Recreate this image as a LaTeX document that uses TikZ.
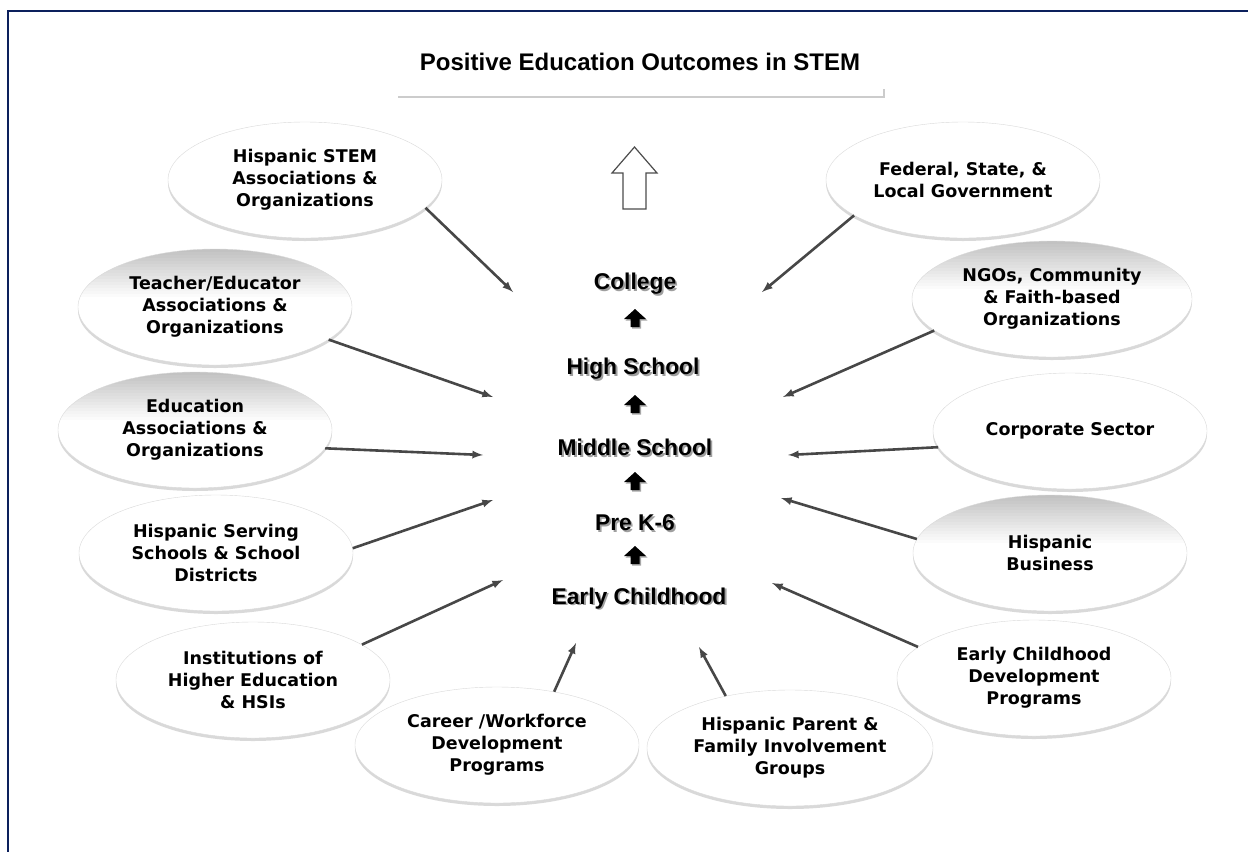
\documentclass[tikz,border=0pt]{standalone}
\usepackage{fontspec}
\setmainfont{Liberation Sans}
\newfontfamily\ovalfont{DejaVu Sans}
\usepackage{xcolor}
\usepackage{tikz}
\usetikzlibrary{shapes}
\usetikzlibrary{shadows}
\definecolor{navy}{RGB}{12,32,92}
\newcommand{\lvltext}[1]{\makebox[0pt][l]{\hspace{1.8pt}\raisebox{-1.8pt}{\color{gray!75}#1}}#1}

\begin{document}
\begin{tikzpicture}[x = 1pt, y = -1pt,
  oval/.style = {ellipse, draw = gray!30, fill = white, minimum width = 274pt,
                 minimum height = 116pt, align = center, inner sep = 0pt,
                 font = \ovalfont\bfseries\fontsize{17.5}{22}\selectfont,
                 drop shadow = {shadow xshift = 0pt, shadow yshift = -3pt,
                                fill = gray!50, opacity = .6}},
  topshade/.style = {path picture = {
                 \foreach \k in {0,...,15} {
                   \pgfmathtruncatemacro\g{48-3*\k}
                   \fill[gray!\g] ([yshift = -3*\k pt]path picture bounding box.north west)
                     rectangle ([yshift = -3*\k pt - 3.2pt]path picture bounding box.north east);
                 }}},
  lvl/.style = {font = \bfseries\fontsize{22.8}{26}\selectfont},
  feed/.style = {line width = 2.6pt, draw = black!72, -latex}]
\useasboundingbox (0, 0) rectangle (1248, 852);
\draw[line width = 2.5pt, navy] (1248, 11) -- (8, 11) -- (8, 852);
\node[font = \bfseries\fontsize{24}{28}\selectfont] (title) at (640, 62) {Positive Education Outcomes in STEM};
\draw[gray!40, line width = 2pt] (398, 97) -- (884, 97) -- (884, 89);
\draw[fill = white, draw = black!70, line width = 1.2pt]
  (634.5, 147) -- (657, 173) -- (646, 173) -- (646, 209) -- (623, 209)
  -- (623, 173) -- (612, 173) -- cycle;
\foreach \y in {318, 404, 481, 555} {
  \fill[gray!70] (636.5, \y-7.5) -- (647.5, \y+2.5) -- (641, \y+2.5) -- (641, \y+10.5)
    -- (632, \y+10.5) -- (632, \y+2.5) -- (625.5, \y+2.5) -- cycle;
  \fill (635, \y-9) -- (646, \y+1) -- (639.5, \y+1) -- (639.5, \y+9)
    -- (630.5, \y+9) -- (630.5, \y+1) -- (624, \y+1) -- cycle;
}
\node[lvl] (col) at (635, 285) {\lvltext{College}};
\node[lvl] (hs) at (633, 370) {\lvltext{High School}};
\node[lvl] (ms) at (635, 448) {\lvltext{Middle School}};
\node[lvl] (prek) at (635, 524) {\lvltext{Pre K-6}};
\node[lvl] (ec) at (639, 599) {\lvltext{Early Childhood}};
% left side
\node[oval] (hstem) at (305, 180) {Hispanic STEM\\Associations \&\\Organizations};
\node[oval, topshade] (teach) at (215, 307) {Teacher/Educator\\Associations \&\\Organizations};
\node[oval, topshade] (edu) at (195, 430) {Education\\Associations \&\\Organizations};
\node[oval] (hss) at (216, 553) {Hispanic Serving\\Schools \& School\\Districts};
\node[oval] (ihe) at (253, 680) {Institutions of\\Higher Education\\\& HSIs};
\node[oval, minimum width = 284pt] (career) at (497, 745) {Career /Workforce\\Development\\Programs};
\node[oval, minimum width = 286pt] (parent) at (790, 748) {Hispanic Parent \&\\Family Involvement\\Groups};
% right side
\node[oval] (gov) at (963, 180) {Federal, State, \&\\Local Government};
\node[oval, topshade, minimum width = 280pt] (ngo) at (1052, 299) {NGOs, Community\\\& Faith-based\\Organizations};
\node[oval] (corp) at (1070, 431) {Corporate Sector};
\node[oval, topshade] (hbus) at (1050, 553) {Hispanic\\Business};
\node[oval] (ecdp) at (1034, 678) {Early Childhood\\Development\\Programs};
\coordinate (p1) at (513, 292);
\coordinate (p2) at (493, 397);
\coordinate (p3) at (483, 455);
\coordinate (p4) at (493, 500);
\coordinate (p5) at (503, 580);
\coordinate (p6) at (576, 643);
\coordinate (p7) at (699, 647);
\coordinate (p8) at (762, 292);
\coordinate (p9) at (783, 397);
\coordinate (p10) at (788, 455);
\coordinate (p11) at (781, 498);
\coordinate (p12) at (772, 583);
\draw[feed] (hstem.-13) -- (p1);
\draw[feed] (teach.-16) -- (p2);
\draw[feed] (edu.-8) -- (p3);
\draw[feed] (hss.2) -- (p4);
\draw[feed] (ihe.18) -- (p5);
\draw[feed] (career.43) -- (p6);
\draw[feed] (parent.141) -- (p7);
\draw[feed] (gov.198) -- (p8);
\draw[feed] (ngo.195) -- (p9);
\draw[feed] (corp.187) -- (p10);
\draw[feed] (hbus.174) -- (p11);
\draw[feed] (ecdp.165) -- (p12);
\end{tikzpicture}
\end{document}
